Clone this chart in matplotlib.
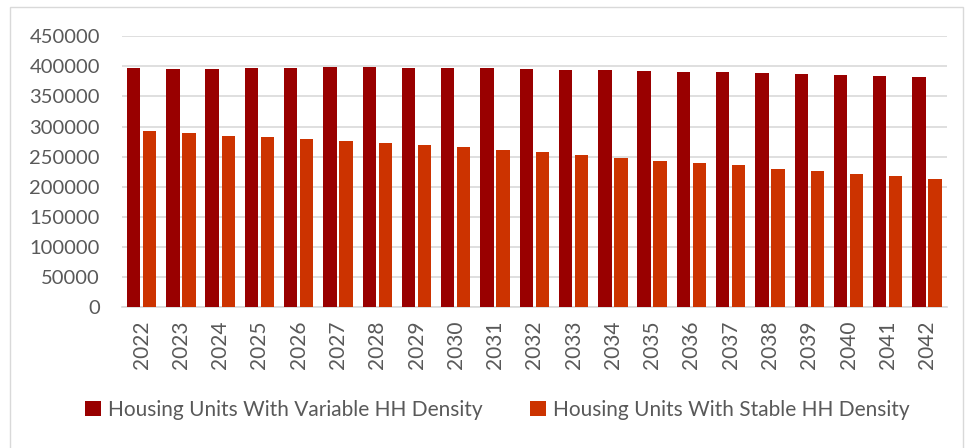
import matplotlib
matplotlib.use("Agg")
import matplotlib.pyplot as plt
import numpy as np
from matplotlib.patches import Rectangle

years = [str(y) for y in range(2022, 2043)]
variable = [396700, 396000, 396000, 397700, 397700, 398900, 399000, 397700, 397700,
            396700, 395500, 394400, 393300, 392200, 391300, 390500, 388900, 386700,
            385500, 384400, 382200]
stable = [292200, 288800, 285000, 282200, 279400, 276000, 272700, 268900, 265500,
          261600, 257200, 252700, 247700, 243500, 239200, 235300, 229400, 226000,
          220900, 217100, 212100]
yticks = list(range(0, 450001, 50000))
series_names = ["Housing Units With Variable HH Density", "Housing Units With Stable HH Density"]

plt.rcParams['font.family'] = ['Lato', 'DejaVu Sans']

fig = plt.figure(figsize=(9.66, 4.48), dpi=100)
ax = fig.add_axes([122/966, 1-307/448, (946.7-122)/966, (307-36.3)/448])

x = np.arange(len(years))
w = 0.34
ax.bar(x - 0.204, variable, width=w, color="#990000", label=series_names[0], zorder=3)
ax.bar(x + 0.204, stable, width=w, color="#CC3300", label=series_names[1], zorder=3)

ax.set_xlim(-0.5, len(years) - 0.5)
ax.set_ylim(0, 450000)
ax.set_yticks(yticks)
ax.set_yticklabels([str(v) for v in yticks], fontsize=14.5, color="#595959")
ax.set_xticks(x)
ax.set_xticklabels(years, rotation=90, fontsize=15, color="#595959")
ax.tick_params(axis='y', length=0, pad=16)
ax.tick_params(axis='x', length=0, pad=10)
ax.grid(axis='y', color="#d9d9d9", linewidth=1.2, zorder=0)
for s in ['top', 'right', 'left']:
    ax.spines[s].set_visible(False)
ax.spines['bottom'].set_color("#d9d9d9")
ax.spines['bottom'].set_linewidth(1.2)

leg = fig.legend(loc='center', bbox_to_anchor=(0.515, 1-410/448), ncol=2, frameon=False,
                 fontsize=15, handlelength=0.75, handleheight=0.75, handletextpad=0.35,
                 columnspacing=2.3, labelcolor="#595959")

fig.patches.append(Rectangle((10/966, -0.01), (963-10)/966, 1-7/448 + 0.01,
                             transform=fig.transFigure, fill=False,
                             edgecolor="#d9d9d9", linewidth=1))

fig.savefig("out.png", dpi=100)
